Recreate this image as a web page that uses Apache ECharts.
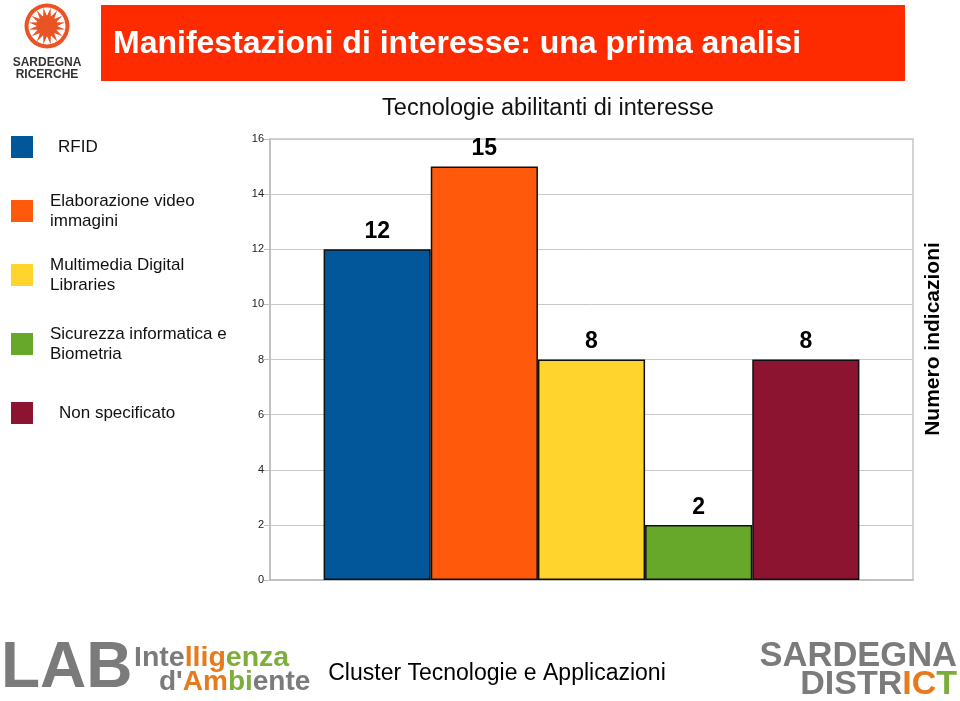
<!DOCTYPE html>
<html><head><meta charset="utf-8">
<script src="https://cdn.jsdelivr.net/npm/echarts@6/dist/echarts.min.js"></script>
<style>html,body{margin:0;padding:0;background:#fff}#c{width:960px;height:701px}</style>
</head><body><div id="c"></div>
<script>
// ---- data ----
const categories = ['Tecnologie abilitanti'];
const seriesNames = ['RFID', 'Elaborazione video immagini', 'Multimedia Digital Libraries', 'Sicurezza informatica e Biometria', 'Non specificato'];
const seriesValues = [12, 15, 8, 2, 8];
const legendLabels = ['RFID', 'Elaborazione video\nimmagini', 'Multimedia Digital\nLibraries', 'Sicurezza informatica e\nBiometria', 'Non specificato'];
const yTickLabels = ['0', '2', '4', '6', '8', '10', '12', '14', '16'];
const chartTitle = 'Tecnologie abilitanti di interesse';
const headerTitle = 'Manifestazioni di interesse: una prima analisi';
const yAxisName = 'Numero indicazioni';
const footerText = 'Cluster Tecnologie e Applicazioni';

// ---- styles / layout ----
const colors = ['#02569A', '#FF5A0C', '#FFD42C', '#67A82A', '#8D1430'];
const legendTops = [136, 191, 255, 324, 402];
const legendPad = [20, 12, 12, 12, 21];
const FONT = '"Liberation Sans", Arial, sans-serif';

const chart = echarts.init(document.getElementById('c'));

const legends = seriesNames.map((n, i) => ({
  data: [n], left: 11, top: legendTops[i], orient: 'vertical',
  itemWidth: 22, itemHeight: 22, icon: 'rect', padding: 0,
  itemStyle: { borderWidth: 0 },
  selectedMode: false,
  formatter: () => legendLabels[i],
  textStyle: { fontFamily: FONT, fontSize: 17, color: '#111', lineHeight: 20, padding: [0, 0, 0, legendPad[i]] }
}));

const series = seriesNames.map((n, i) => ({
  name: n, type: 'bar', data: [seriesValues[i]],
  barGap: '0%', barCategoryGap: '16.67%',
  itemStyle: { color: colors[i], borderColor: '#111', borderWidth: 1.5 },
  label: { show: true, position: 'top', distance: 6, fontFamily: FONT, fontSize: 23, fontWeight: 'bold', color: '#000' }
}));

// sun logo rays
const sunCx = 47, sunCy = 26;
const rays = [];
for (let k = 0; k < 16; k++) {
  const a = k * Math.PI / 8 + Math.PI / 16;
  const da = Math.PI / 16;
  rays.push({
    type: 'polygon',
    shape: { points: [
      [sunCx + 10 * Math.cos(a - da), sunCy + 10 * Math.sin(a - da)],
      [sunCx + 18.5 * Math.cos(a), sunCy + 18.5 * Math.sin(a)],
      [sunCx + 10 * Math.cos(a + da), sunCy + 10 * Math.sin(a + da)]
    ] },
    style: { fill: '#EA5424' }
  });
}

const graphic = [
  { type: 'rect', shape: { x: 101, y: 5, width: 804, height: 76 }, style: { fill: '#FF2B00' } },
  { type: 'text', x: 113, y: 44, style: { text: headerTitle, fill: '#fff', font: 'bold 32px ' + FONT, textVerticalAlign: 'middle' } },
  { type: 'circle', shape: { cx: sunCx, cy: sunCy, r: 22.5 }, style: { fill: '#EA5424' } },
  { type: 'circle', shape: { cx: sunCx, cy: sunCy, r: 18.5 }, style: { fill: '#fff' } },
  ...rays,
  { type: 'circle', shape: { cx: sunCx, cy: sunCy, r: 10.5 }, style: { fill: '#EA5424' } },
  { type: 'text', x: 47, y: 63, style: { text: 'SARDEGNA', fill: '#333', font: 'bold 12px ' + FONT, textAlign: 'center', textVerticalAlign: 'middle' } },
  { type: 'text', x: 47, y: 75, style: { text: 'RICERCHE', fill: '#333', font: 'bold 12px ' + FONT, textAlign: 'center', textVerticalAlign: 'middle' } },
  { type: 'text', x: 548, y: 109, style: { text: chartTitle, fill: '#111', font: '23.5px ' + FONT, textAlign: 'center', textVerticalAlign: 'middle' } },
  { type: 'text', x: 933, y: 339, rotation: Math.PI / 2, style: { text: yAxisName, fill: '#000', font: 'bold 21px ' + FONT, textAlign: 'center', textVerticalAlign: 'middle' } },
  // footer
  { type: 'text', x: 1, y: 669, style: { text: 'LAB', fill: '#7B7B7B', font: 'bold 64px ' + FONT, textVerticalAlign: 'middle' } },
  { type: 'text', x: 134, y: 658, style: {
      text: '{g|Inte}{o|llig}{gr|enza}', textVerticalAlign: 'middle',
      rich: { g: { fill: '#7B7B7B', font: 'bold 28.5px ' + FONT }, o: { fill: '#E87A1E', font: 'bold 28.5px ' + FONT }, gr: { fill: '#7DAE3C', font: 'bold 28.5px ' + FONT } } } },
  { type: 'text', x: 159, y: 682, style: {
      text: "{g|d'}{o|Am}{gr|bi}{g|ente}", textVerticalAlign: 'middle',
      rich: { g: { fill: '#7B7B7B', font: 'bold 28px ' + FONT }, o: { fill: '#E87A1E', font: 'bold 28px ' + FONT }, gr: { fill: '#7DAE3C', font: 'bold 28px ' + FONT } } } },
  { type: 'text', x: 497, y: 674, style: { text: footerText, fill: '#000', font: '23px ' + FONT, textAlign: 'center', textVerticalAlign: 'middle' } },
  { type: 'text', x: 957, y: 656, style: { text: 'SARDEGNA', fill: '#7B7B7B', font: 'bold 34.5px ' + FONT, textAlign: 'right', textVerticalAlign: 'middle' } },
  { type: 'text', x: 957, y: 685, style: {
      text: '{g|DISTR}{o|IC}{gr|T}', textAlign: 'right', textVerticalAlign: 'middle',
      rich: { g: { fill: '#7B7B7B', font: 'bold 34px ' + FONT }, o: { fill: '#E87A1E', font: 'bold 34px ' + FONT }, gr: { fill: '#7DAE3C', font: 'bold 34px ' + FONT } } } }
];

chart.setOption({
  animation: false,
  backgroundColor: '#fff',
  legend: legends,
  grid: { left: 270, right: 47, top: 139, bottom: 121, show: true, borderColor: '#c4c4c4', borderWidth: 1.5, backgroundColor: '#fff' },
  xAxis: { type: 'category', data: categories, axisLabel: { show: false }, axisTick: { show: false }, axisLine: { lineStyle: { color: '#bdbdbd', width: 1.5 } } },
  yAxis: {
    type: 'value', min: 0, max: 16, interval: 2,
    axisLine: { show: true, lineStyle: { color: '#bdbdbd', width: 1.5 } },
    axisTick: { show: true, length: 6, lineStyle: { color: '#bdbdbd' } },
    axisLabel: { margin: 6, fontFamily: FONT, fontSize: 11, color: '#222', formatter: v => yTickLabels[v / 2] },
    splitLine: { lineStyle: { color: '#c8c8c8', width: 1 } }
  },
  series: series,
  graphic: graphic
});
</script>
</body></html>
